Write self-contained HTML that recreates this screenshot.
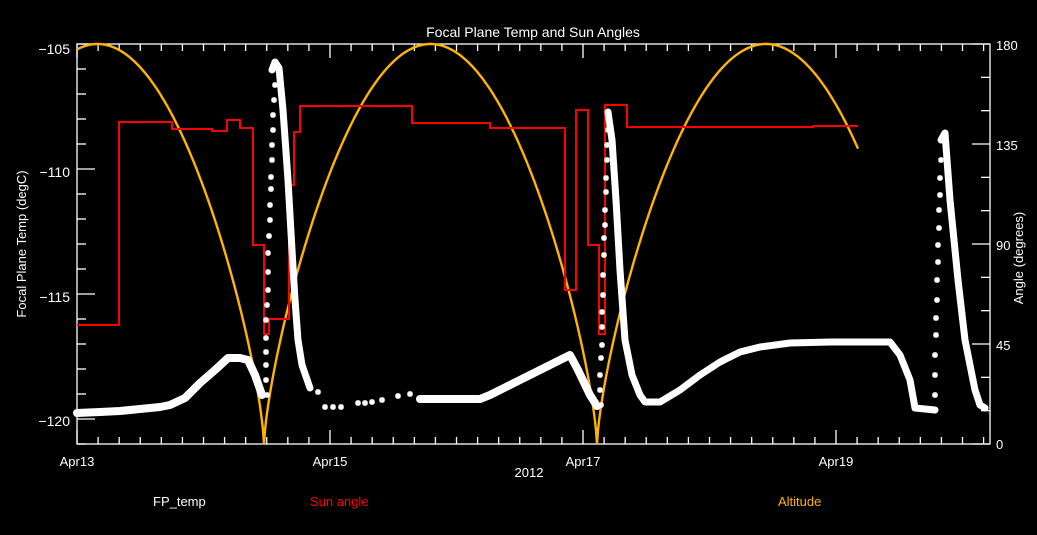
<!DOCTYPE html>
<html><head><meta charset="utf-8"><style>
html,body{margin:0;padding:0;background:#000;}
svg{display:block;font-family:"Liberation Sans",sans-serif;}
text{fill:#fff;font-size:13px;}
</style></head><body>
<svg id="s" width="1037" height="535" viewBox="0 0 1037 535">
<rect width="1037" height="535" fill="#000"/>
<g id="axes" stroke="#fff" stroke-width="1.3" fill="none">
<rect x="77" y="44" width="913" height="400"/>
</g>
<text x="533" y="37" text-anchor="middle" style="font-size:14px">Focal Plane Temp and Sun Angles</text>
<text x="70" y="54" text-anchor="end" style="font-size:14px">−105</text>
<text x="70" y="177" text-anchor="end" style="font-size:14px">−110</text>
<text x="70" y="302" text-anchor="end" style="font-size:14px">−115</text>
<text x="70" y="426" text-anchor="end" style="font-size:14px">−120</text>
<text x="996" y="50" style="font-size:13px">180</text>
<text x="996" y="150" style="font-size:13px">135</text>
<text x="996" y="250" style="font-size:13px">90</text>
<text x="996" y="350" style="font-size:13px">45</text>
<text x="996" y="449" style="font-size:13px">0</text>
<text x="77" y="466" text-anchor="middle" style="font-size:13px">Apr13</text>
<text x="330" y="466" text-anchor="middle" style="font-size:13px">Apr15</text>
<text x="583" y="466" text-anchor="middle" style="font-size:13px">Apr17</text>
<text x="836" y="466" text-anchor="middle" style="font-size:13px">Apr19</text>
<text x="529" y="477" text-anchor="middle" style="font-size:13px">2012</text>
<text transform="translate(26,244) rotate(-90)" text-anchor="middle" style="font-size:13px">Focal Plane Temp (degC)</text>
<text transform="translate(1023,258) rotate(-90)" text-anchor="middle" style="font-size:13px">Angle (degrees)</text>
<text x="153" y="506" style="font-size:13px">FP_temp</text>
<text x="310" y="506" style="font-size:13px;fill:#ff0000">Sun angle</text>
<text x="778" y="506" style="font-size:13px;fill:#ffb400">Altitude</text>
<path id="alt" fill="none" stroke="#ffb400" stroke-width="2.4"/>
<path fill="none" stroke="#ff0000" stroke-width="2" d="M77,325 H119 V122 H172 V129 H212 V131 H227 V120 H240 V128 H253 V245 H264 V334 H269 V319 H289 V185 H294 V132 H300 V106 H412 V123 H490 V128 H565 V290 H576 V110 H588 V245 H599 V334 H605 V105 H627 V127 H813 V126 H858"/>
<g id="fp" fill="none" stroke="#fff" stroke-linejoin="round" stroke-linecap="round">
<polyline stroke-width="8" points="77,413 100,412 120,411 140,409 160,407 170,405 185,398 200,383 215,370 228,358 240,358 248,360 255,375 262,395"/>
<polyline stroke-width="7" points="272,70 275,62 279,68 283,110 288,180 292,250 295,300 298,340 302,365 310,388"/>
<polyline stroke-width="8" points="420,399 480,399 490,395 510,385 530,375 560,360 570,355 578,370 590,395 597,406"/>
<polyline stroke-width="7" points="608,112 612,140 616,200 620,270 625,340 632,375 640,395 645,402 660,402 680,390 700,375 720,362 740,352 760,347 790,343 830,342 890,342 900,355 910,380 915,408 935,410"/>
<polyline stroke-width="7" points="941,140 945,133 950,200 958,280 965,340 975,390 980,405 985,408"/>
</g>
<g id="stars" stroke="#fff" stroke-width="1.5"></g>
</svg>
<script>
(function(){
var ns="http://www.w3.org/2000/svg",s=document.getElementById('s');
var ax=document.getElementById('axes');
function ln(x1,y1,x2,y2){var l=document.createElementNS(ns,'line');l.setAttribute('x1',x1);l.setAttribute('y1',y1);l.setAttribute('x2',x2);l.setAttribute('y2',y2);ax.appendChild(l);}
for(var i=0;i<=16;i++){var y=44+i*25;if(y>444)break;var T=-105-i;var maj=(T%5===0);ln(77,y,77+(maj?18:9),y);}
for(var a=0;a<=180;a+=15){var y=444-a/180*400;var maj=(a%45===0);ln(990,y,990-(maj?18:9),y);}
var day=126.5;
for(var k=0;;k++){var x=77+k*day/6;if(x>990)break;var maj=(k%12===0);ln(x,444,x,444-(maj?14:7));ln(x,44,x,44+(maj?14:7));}
var d="";var zs=[-69,264,597,930];
for(var x=77;x<=858;x+=1){var z=zs[0];for(var j=0;j<zs.length-1;j++){if(x>=zs[j]&&x<zs[j+1])z=zs[j];}
var w=(z===597)?338:333;var t=(x-z)/w;var v=Math.pow(Math.max(0,Math.sin(Math.PI*t)),0.72);var y=444-v*400;
d+=(d?"L":"M")+x+","+y.toFixed(1);}
document.getElementById('alt').setAttribute('d',d);
var st=document.getElementById('stars');
function star(x,y){var p=document.createElementNS(ns,'path');var r=3;
p.setAttribute('d','M'+(x-r)+','+y+'H'+(x+r)+'M'+x+','+(y-r)+'V'+(y+r)+'M'+(x-2.2)+','+(y-2.2)+'L'+(x+2.2)+','+(y+2.2)+'M'+(x-2.2)+','+(y+2.2)+'L'+(x+2.2)+','+(y-2.2));st.appendChild(p);}
var pts=[[267,395],[266,380],[266,365],[266,352],[266,338],[266,320],[267,305],[268,290],[268,272],[268,253],[269,236],[270,220],[270,205],[271,189],[271,177],[272,160],[272,145],[273,130],[273,115],[274,100],[275,85],
[318,392],[325,407],[333,407],[341,407],[358,403],[365,403],[372,402],[382,400],[398,396],[410,394],
[601,405],[600,390],[600,375],[601,358],[602,345],[602,327],[602,312],[603,295],[603,275],[604,255],[604,238],[605,225],[605,210],[606,192],[606,178],[607,160],[607,145],[608,130],
[935,395],[935,375],[935,355],[936,335],[936,318],[937,300],[937,280],[938,262],[938,245],[939,228],[939,210],[940,195],[940,178],[941,160]];
pts.forEach(function(p){star(p[0],p[1]);});
})();
</script>
</body></html>
